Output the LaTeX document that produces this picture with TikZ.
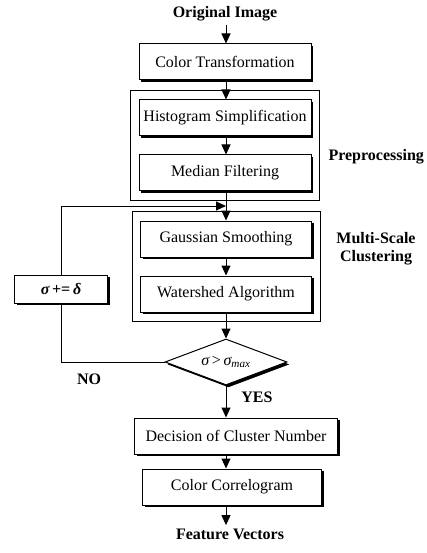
\documentclass[tikz,border=0pt]{standalone}
\usepackage{fontspec}
\setmainfont{Liberation Serif}
\usetikzlibrary{arrows.meta,shapes.geometric,shadows,fit}
\begin{document}
\begin{tikzpicture}[x=1pt, y=-1pt, font=\fontsize{16}{18}\selectfont,
    box/.style={draw, line width=1pt, fill=white, inner sep=0pt, minimum height=36pt,
      drop shadow={shadow xshift=2.4pt, shadow yshift=-2.4pt, opacity=1, fill=black}},
    group/.style={draw, line width=0.7pt, inner xsep=8pt, inner ysep=9pt},
    lbl/.style={font=\fontsize{16}{18}\selectfont\bfseries},
    arr/.style={-{Triangle[width=9pt,length=10pt]}, line width=1pt}]
  \useasboundingbox (0,0) rectangle (427,553);
  \node[lbl] (orig) at (225,14) {Original Image};
  \foreach \n/\x/\y/\w/\t in {ct/225/62/172/Color Transformation, hs/225/118/172/Histogram Simplification,
      mf/225/173/172/Median Filtering, gs/226/239/171/Gaussian Smoothing, wa/226/294/171/Watershed Algorithm,
      dcn/236/436/203/Decision of Cluster Number, cc/232/487/179/Color Correlogram}
    \node[box, minimum width=\w] (\n) at (\x,\y) {\t};
  \node[box, diamond, aspect=2.6, minimum width=122pt, minimum height=46pt] (dia) at (226,362)
    {{\itshape σ}\,>\,{\itshape σ}\textsubscript{\itshape max}};
  \node[box, minimum width=93pt, minimum height=28pt] (sig) at (61,289)
    {{\bfseries\itshape σ}\,\textbf{+=}\,{\bfseries\itshape δ}};
  \node[lbl] (fv) at (230,534) {Feature Vectors};
  \node[group, fit=(hs)(mf)] (pre) {};
  \node[group, fit=(gs)(wa)] (msc) {};
  \node[lbl, anchor=west] (prel) at (325,157) {Preprocessing};
  \node[lbl, align=center] (mscl) at (376,249) {Multi-Scale\\Clustering};
  \coordinate (join) at (226,206);
  \foreach \a/\b in {orig/ct, ct/hs, hs/mf, mf/gs, gs/wa, wa/dia, dia/dcn, dcn/cc, cc/fv}
    \draw[arr] (\a.south -| dia) -- (\b.north -| dia);
  \draw[line width=1pt] (dia.west) -| (sig.south);
  \draw[arr] (sig.north) |- (join);
  \node[lbl] (no) at (89,379) {NO};
  \node[lbl] (yes) at (257,397) {YES};
\end{tikzpicture}
\end{document}
